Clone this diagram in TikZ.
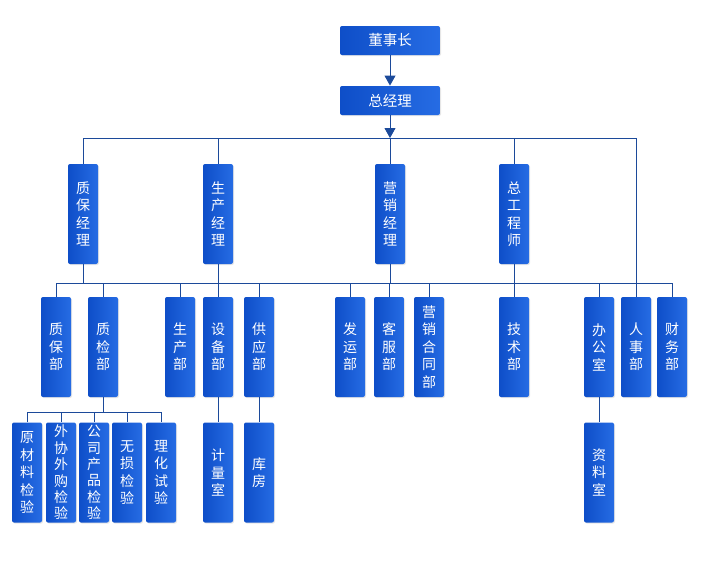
\documentclass[tikz,border=0pt]{standalone}
\usepackage{fontspec}
\newfontfamily\cjk{Noto Sans CJK SC}
\usetikzlibrary{arrows.meta,shadows}
\definecolor{boxdark}{RGB}{14,78,200}
\definecolor{boxlight}{RGB}{38,108,228}
\definecolor{linkblue}{RGB}{28,74,154}
\begin{document}
\begin{tikzpicture}[x=1pt,y=-1pt,draw=linkblue,line width=0.9pt]
	\def \rowzero{40.5}
	\def \rowone{100.5}
	\def \rowtwo{214}
	\def \rowthree{347}
	\def \rowfour{472.5}
	\tikzstyle{box}=[rounded corners=2pt,left color=boxdark,right color=boxlight,draw=none,text=white,inner sep=0pt,align=center,font=\cjk\fontsize{14}{17.5}\selectfont,drop shadow={shadow xshift=1pt,shadow yshift=-1pt,opacity=0.2}]
	\tikzstyle{h-node}=[box,minimum width=100pt,minimum height=29pt,font=\cjk\fontsize{14.5}{16}\selectfont]
	\tikzstyle{v-node}=[box,minimum width=30pt,minimum height=100pt]
	\tikzstyle{long-node}=[v-node,font=\cjk\fontsize{14}{16.4}\selectfont]
	\tikzstyle{arrowed}=[-{Triangle[width=11pt,length=10pt]}]
	\useasboundingbox (0,0) rectangle (707,565);

	% top
	\node[h-node] 	(dsz)	at (390,\rowzero)	{董事长};
	\node[h-node] 	(zjl)	at (390,\rowone)	{总经理};

	% managers
	\node[v-node] 	(zbjl)	at (83,\rowtwo)		{质\\保\\经\\理};
	\node[v-node] 	(scjl)	at (218,\rowtwo)	{生\\产\\经\\理};
	\node[v-node] 	(yxjl)	at (390,\rowtwo)	{营\\销\\经\\理};
	\node[v-node] 	(zgcs)	at (514,\rowtwo)	{总\\工\\程\\师};

	% departments
	\node[v-node] 	(zbb)	at (56,\rowthree)	{质\\保\\部};
	\node[v-node] 	(zjb)	at (103,\rowthree)	{质\\检\\部};
	\node[v-node] 	(scb)	at (180,\rowthree)	{生\\产\\部};
	\node[v-node] 	(sbb)	at (218,\rowthree)	{设\\备\\部};
	\node[v-node] 	(gyb)	at (259,\rowthree)	{供\\应\\部};
	\node[v-node] 	(fyb)	at (350,\rowthree)	{发\\运\\部};
	\node[v-node] 	(kfb)	at (389,\rowthree)	{客\\服\\部};
	\node[v-node] 	(yxht)	at (429,\rowthree)	{营\\销\\合\\同\\部};
	\node[v-node] 	(jsb)	at (514,\rowthree)	{技\\术\\部};
	\node[v-node] 	(bgs)	at (599,\rowthree)	{办\\公\\室};
	\node[v-node] 	(rsb)	at (636,\rowthree)	{人\\事\\部};
	\node[v-node] 	(cwb)	at (672,\rowthree)	{财\\务\\部};

	% sections
	\node[v-node] 	(ycl)	at (27,\rowfour)	{原\\材\\料\\检\\验};
	\node[long-node] 	(wxwg)	at (61,\rowfour)	{外\\协\\外\\购\\检\\验};
	\node[long-node] 	(gscp)	at (94,\rowfour)	{公\\司\\产\\品\\检\\验};
	\node[v-node] 	(wsjy)	at (127,\rowfour)	{无\\损\\检\\验};
	\node[v-node] 	(lhsy)	at (161,\rowfour)	{理\\化\\试\\验};
	\node[v-node] 	(jls)	at (218,\rowfour)	{计\\量\\室};
	\node[v-node] 	(kf)	at (259,\rowfour)	{库\\房};
	\node[v-node] 	(zls)	at (599,\rowfour)	{资\\料\\室};

	% buses
	\coordinate (bus1) at (390,138);
	\coordinate (bus2) at (390,283);
	\coordinate (bus3) at (103,412);

	\draw[arrowed] (dsz) -- (zjl);
	\draw[arrowed] (zjl) -- (bus1);
	\draw (zbjl.north) -- (zbjl.north |- bus1) -| (rsb.north);
	\foreach \m in {scjl,yxjl,zgcs}
		\draw (\m.north) -- (\m.north |- bus1);
	%
	\draw (zbb.north) -- (zbb.north |- bus2) -| (cwb.north);
	\foreach \m in {zbjl,scjl,yxjl,zgcs}
		\draw (\m.south) -- (\m.south |- bus2);
	\foreach \d in {zjb,scb,sbb,gyb,fyb,kfb,yxht,jsb,bgs}
		\draw (\d.north) -- (\d.north |- bus2);
	%
	\draw (zjb.south) -- (bus3);
	\draw (ycl.north) -- (ycl.north |- bus3) -| (lhsy.north);
	\foreach \s in {wxwg,gscp,wsjy}
		\draw (\s.north) -- (\s.north |- bus3);
	%
	\path
		(sbb)	edge	(jls)
		(gyb)	edge	(kf)
		(bgs)	edge	(zls);
\end{tikzpicture}
\end{document}
